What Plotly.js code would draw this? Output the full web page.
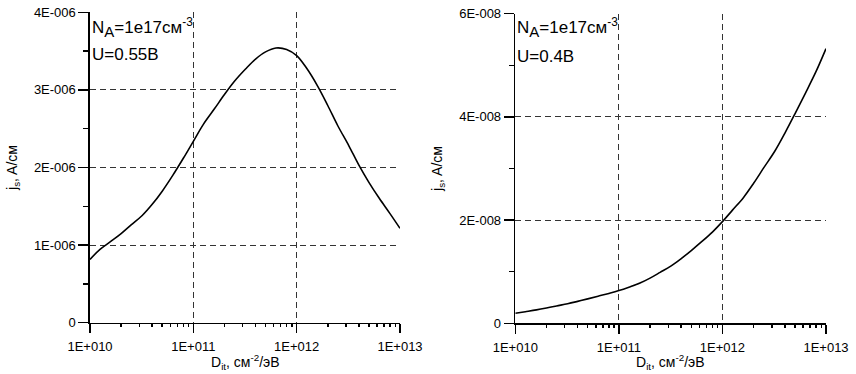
<!DOCTYPE html>
<html>
<head>
<meta charset="utf-8">
<script src="https://cdn.plot.ly/plotly-3.0.1.min.js"></script>
<style>html,body{margin:0;padding:0;background:#fff;}#chart{width:856px;height:374px;}</style>
</head>
<body>
<div id="chart"></div>
<script>
// Data (D_it in cm^-2/eV, j_s in A/cm)
const dit = [1e10, 1.25e10, 1.6e10, 2e10, 2.5e10, 3.2e10, 4e10, 5e10, 6.3e10, 8e10,
             1e11, 1.25e11, 1.6e11, 2e11, 2.5e11, 3.2e11, 4e11, 5e11, 6.3e11, 8e11,
             1e12, 1.25e12, 1.6e12, 2e12, 2.5e12, 3.2e12, 4e12, 5e12, 6.3e12, 8e12,
             1e13];
const jsLeft = [0.816e-6, 0.945e-6, 1.050e-6, 1.148e-6, 1.260e-6, 1.381e-6, 1.525e-6, 1.695e-6, 1.895e-6, 2.119e-6,
                2.337e-6, 2.556e-6, 2.756e-6, 2.940e-6, 3.111e-6, 3.269e-6, 3.397e-6, 3.490e-6, 3.540e-6, 3.521e-6,
                3.441e-6, 3.278e-6, 3.046e-6, 2.799e-6, 2.538e-6, 2.280e-6, 2.030e-6, 1.809e-6, 1.603e-6, 1.406e-6,
                1.216e-6];
const jsRight = [0.194e-8, 0.225e-8, 0.260e-8, 0.297e-8, 0.337e-8, 0.379e-8, 0.425e-8, 0.473e-8, 0.525e-8, 0.579e-8,
                 0.634e-8, 0.699e-8, 0.779e-8, 0.875e-8, 0.986e-8, 1.112e-8, 1.254e-8, 1.410e-8, 1.581e-8, 1.768e-8,
                 1.970e-8, 2.193e-8, 2.440e-8, 2.713e-8, 3.011e-8, 3.334e-8, 3.682e-8, 4.055e-8, 4.453e-8, 4.876e-8,
                 5.323e-8];

const xTickVals = [1e10, 1e11, 1e12, 1e13];
const xTickText = ['1E+010', '1E+011', '1E+012', '1E+013'];
const yLeftTickVals = [0, 1e-6, 2e-6, 3e-6, 4e-6];
const yLeftTickText = ['0', '1E-006', '2E-006', '3E-006', '4E-006'];
const yRightTickVals = [0, 2e-8, 4e-8, 6e-8];
const yRightTickText = ['0', '2E-008', '4E-008', '6E-008'];

const xTitle = 'D<sub>it</sub>, см<sup>-2</sup>/эВ';
const yTitle = 'j<sub>s</sub>, A/см';
const naText = 'N<sub><span style="font-size:15px">A</span></sub>=1e17см<sup>-3</sup>';
const uLeft = 'U=0.55В';
const uRight = 'U=0.4В';

const W = 856, H = 374;
const FONT = 'Liberation Sans, Arial, sans-serif';
function dx(a, b) { return [a / W, b / W]; }
function dy(top, bottom) { return [1 - bottom / H, 1 - top / H]; }

const lineStyle = {color: '#000', width: 1.6, shape: 'spline', smoothing: 1};

const traces = [
  {x: dit, y: jsLeft, xaxis: 'x', yaxis: 'y', mode: 'lines', line: lineStyle, showlegend: false, hoverinfo: 'skip'},
  {x: dit, y: jsRight, xaxis: 'x2', yaxis: 'y2', mode: 'lines', line: lineStyle, showlegend: false, hoverinfo: 'skip'}
];

function xAxis(domain, anchor) {
  return {
    type: 'log', range: [10, 13], domain: domain, anchor: anchor,
    tickmode: 'array', tickvals: xTickVals, ticktext: xTickText,
    ticks: 'outside', ticklen: 9, tickwidth: 1.5, tickcolor: '#000',
    ticklabelstandoff: 2,
    minor: {dtick: 'D1', ticks: 'outside', ticklen: 3, tickwidth: 1.5, tickcolor: '#000', showgrid: false},
    showline: true, linecolor: '#000', linewidth: 1.6,
    showgrid: true, gridcolor: '#333', gridwidth: 1, griddash: '6px,4px',
    zeroline: false,
    tickfont: {family: FONT, size: 13, color: '#000'},
    fixedrange: true
  };
}
function yAxis(domain, anchor, range, dtick, vals, text) {
  return {
    range: range, domain: domain, anchor: anchor,
    tickmode: 'array', tickvals: vals, ticktext: text,
    ticks: 'outside', ticklen: 10, tickwidth: 1.5, tickcolor: '#000',
    minor: {dtick: dtick / 2, tick0: 0, ticks: 'outside', ticklen: 5, tickwidth: 1.5, tickcolor: '#000', showgrid: false},
    showline: true, linecolor: '#000', linewidth: 1.6,
    showgrid: true, gridcolor: '#333', gridwidth: 1, griddash: '6px,4px',
    zeroline: false,
    tickfont: {family: FONT, size: 13, color: '#000'},
    title: {text: yTitle, font: {family: FONT, size: 14, color: '#000'}, standoff: 13},
    fixedrange: true
  };
}

const annFont = {family: FONT, size: 17, color: '#000'};
function ann(text, xpx, ypx) {
  return {text: text, xref: 'paper', yref: 'paper', x: xpx / W, y: 1 - ypx / H,
          xanchor: 'left', yanchor: 'middle', showarrow: false, font: annFont, borderpad: 0};
}
function xTitleAnn(xref) {
  return {text: xTitle, xref: xref, yref: 'paper', x: 0.5, y: 1 - 362 / H,
          xanchor: 'center', yanchor: 'middle', showarrow: false,
          font: {family: FONT, size: 14, color: '#000'}, borderpad: 0};
}

const layout = {
  width: W, height: H,
  margin: {l: 0, r: 0, t: 0, b: 0},
  paper_bgcolor: '#fff', plot_bgcolor: '#fff',
  font: {family: FONT, color: '#000'},
  xaxis: xAxis(dx(90, 400), 'y'),
  yaxis: yAxis(dy(12.3, 322.7), 'x', [0, 4e-6], 1e-6, yLeftTickVals, yLeftTickText),
  xaxis2: xAxis(dx(515.3, 826), 'y2'),
  yaxis2: yAxis(dy(13.7, 323.3), 'x2', [0, 6e-8], 2e-8, yRightTickVals, yRightTickText),
  annotations: [
    ann(naText, 91, 28),
    ann(uLeft, 91, 54),
    ann(naText, 516, 28),
    ann(uRight, 516, 56.5),
    xTitleAnn('x domain'),
    xTitleAnn('x2 domain')
  ]
};

Plotly.newPlot('chart', traces, layout, {staticPlot: true, displayModeBar: false});
</script>
</body>
</html>
